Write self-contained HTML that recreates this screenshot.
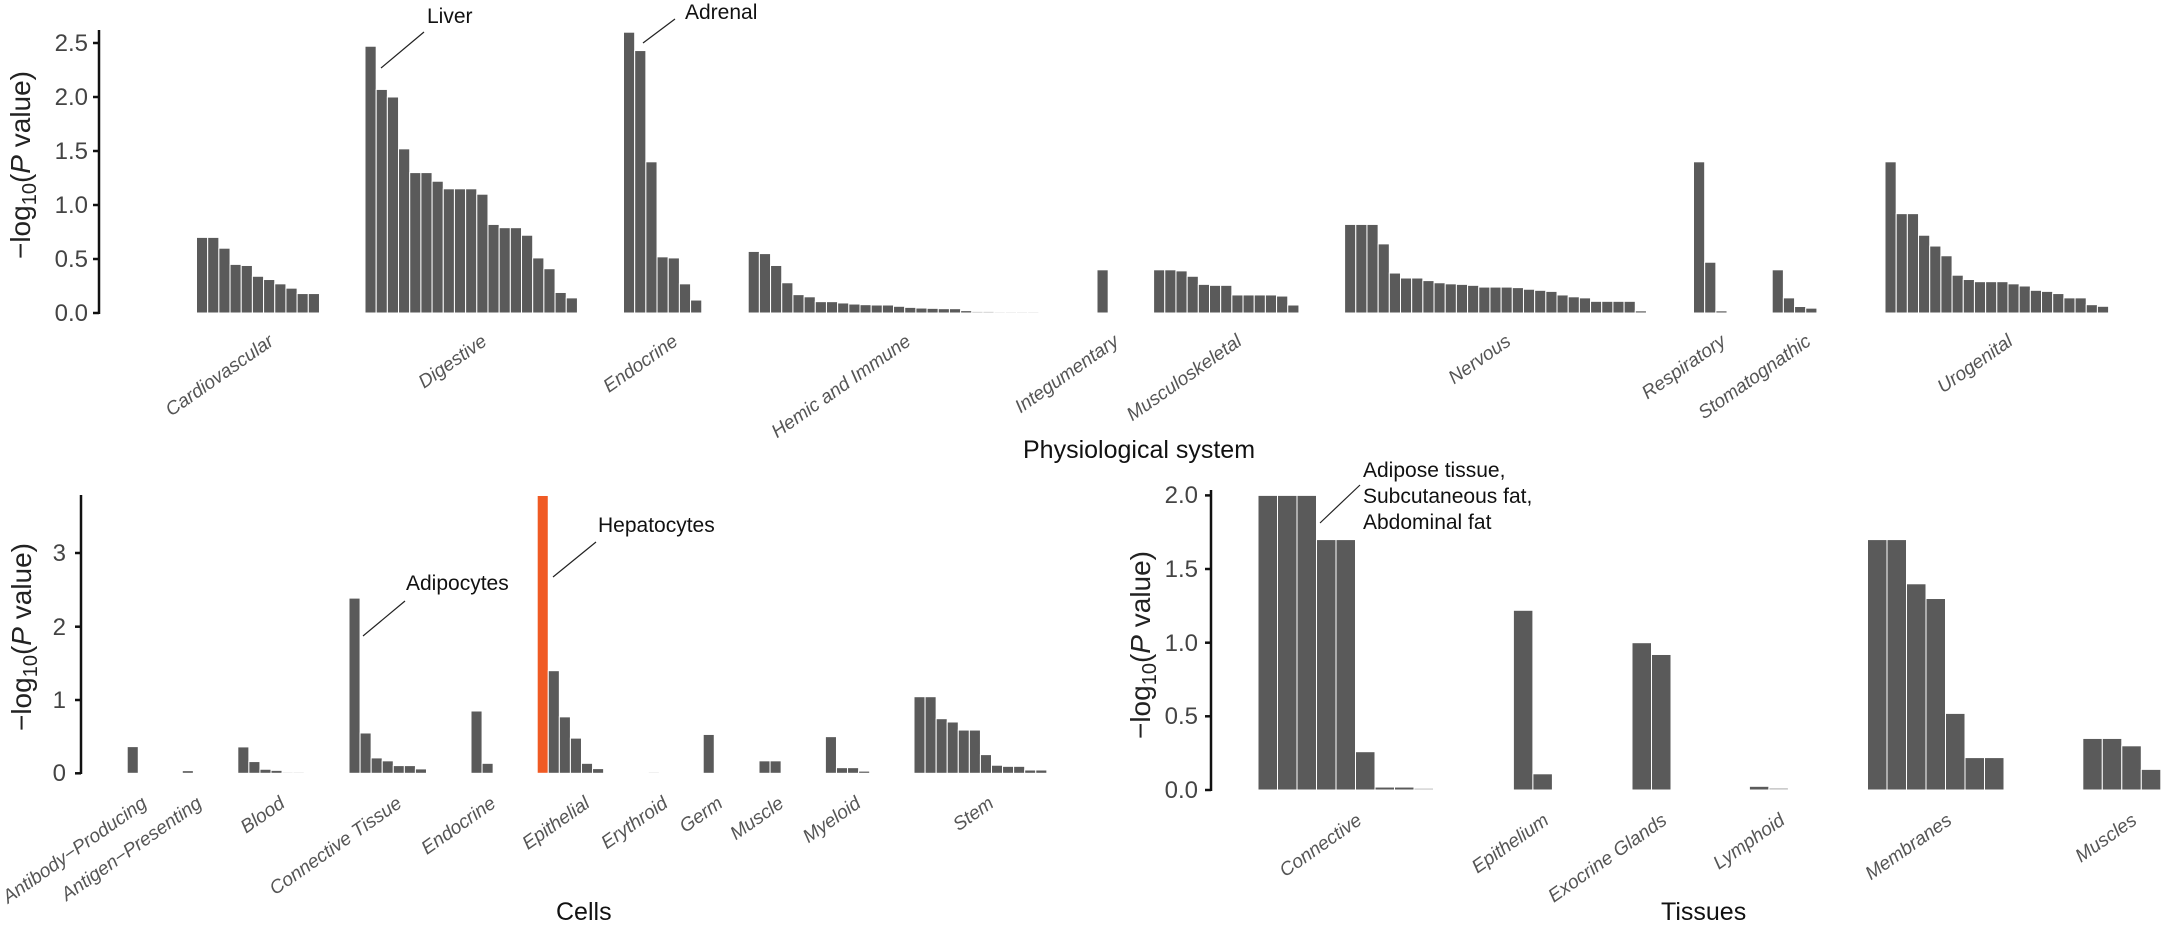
<!DOCTYPE html>
<html><head><meta charset="utf-8"><style>
html,body{margin:0;padding:0;background:#fff;}
svg{display:block;font-family:"Liberation Sans",sans-serif;}
.tk{font-size:24px;fill:#444;}
.cat{font-size:19px;fill:#555;font-style:italic;}
.ttl{font-size:25px;fill:#111;}
.ann{font-size:21px;fill:#111;}
.yt{font-size:28px;fill:#222;}
</style></head><body>
<svg id="s" width="2162" height="928" viewBox="0 0 2162 928" xmlns="http://www.w3.org/2000/svg">
<g id="bars"></g>
<g stroke="#111" stroke-width="2.5">
<line x1="99" y1="30" x2="99" y2="314"/>
<line x1="93" y1="43" x2="99" y2="43"/><line x1="93" y1="97" x2="99" y2="97"/><line x1="93" y1="151" x2="99" y2="151"/><line x1="93" y1="205" x2="99" y2="205"/><line x1="93" y1="259" x2="99" y2="259"/><line x1="93" y1="313" x2="99" y2="313"/>
<line x1="81" y1="495" x2="81" y2="774"/>
<line x1="75" y1="553" x2="81" y2="553"/><line x1="75" y1="626.7" x2="81" y2="626.7"/><line x1="75" y1="700" x2="81" y2="700"/><line x1="75" y1="773.3" x2="81" y2="773.3"/>
<line x1="1211" y1="490" x2="1211" y2="791"/>
<line x1="1205" y1="495.4" x2="1211" y2="495.4"/><line x1="1205" y1="569" x2="1211" y2="569"/><line x1="1205" y1="642.7" x2="1211" y2="642.7"/><line x1="1205" y1="716.3" x2="1211" y2="716.3"/><line x1="1205" y1="790" x2="1211" y2="790"/>
</g>
<g class="tk" text-anchor="end">
<text x="88" y="51">2.5</text><text x="88" y="105">2.0</text><text x="88" y="159">1.5</text><text x="88" y="213">1.0</text><text x="88" y="267">0.5</text><text x="88" y="321">0.0</text>
<text x="66" y="561">3</text><text x="66" y="635">2</text><text x="66" y="708">1</text><text x="66" y="781">0</text>
<text x="1198" y="503">2.0</text><text x="1198" y="577">1.5</text><text x="1198" y="651">1.0</text><text x="1198" y="724">0.5</text><text x="1198" y="798">0.0</text>
</g>
<text class="yt" transform="translate(30,165) rotate(-90)" text-anchor="middle">−log<tspan font-size="20" dy="6">10</tspan><tspan dy="-6">(</tspan><tspan font-style="italic">P</tspan> value)</text>
<text class="yt" transform="translate(31,637) rotate(-90)" text-anchor="middle">−log<tspan font-size="20" dy="6">10</tspan><tspan dy="-6">(</tspan><tspan font-style="italic">P</tspan> value)</text>
<text class="yt" transform="translate(1150,645) rotate(-90)" text-anchor="middle">−log<tspan font-size="20" dy="6">10</tspan><tspan dy="-6">(</tspan><tspan font-style="italic">P</tspan> value)</text>
<text class="ttl" x="1023" y="458">Physiological system</text>
<text class="ttl" x="556" y="920">Cells</text>
<text class="ttl" x="1661" y="920">Tissues</text>
<g stroke="#222" stroke-width="1.2">
<line x1="381" y1="68" x2="424" y2="32"/>
<line x1="643" y1="43" x2="675" y2="19"/>
<line x1="363" y1="636" x2="405" y2="601"/>
<line x1="553" y1="577" x2="596" y2="542"/>
<line x1="1320" y1="523" x2="1360" y2="485"/>
</g>
<text class="ann" x="427" y="23">Liver</text>
<text class="ann" x="685" y="19">Adrenal</text>
<text class="ann" x="406" y="590">Adipocytes</text>
<text class="ann" x="598" y="532">Hepatocytes</text>
<text class="ann" x="1363" y="477">Adipose tissue,</text>
<text class="ann" x="1363" y="503">Subcutaneous fat,</text>
<text class="ann" x="1363" y="529">Abdominal fat</text>
<g id="labels" class="cat" text-anchor="end">
<text transform="translate(275,344) rotate(-35)">Cardiovascular</text>
<text transform="translate(488,344) rotate(-35)">Digestive</text>
<text transform="translate(679,344) rotate(-35)">Endocrine</text>
<text transform="translate(912,344) rotate(-35)">Hemic and Immune</text>
<text transform="translate(1120,344) rotate(-35)">Integumentary</text>
<text transform="translate(1243,344) rotate(-35)">Musculoskeletal</text>
<text transform="translate(1512,344) rotate(-35)">Nervous</text>
<text transform="translate(1727,344) rotate(-35)">Respiratory</text>
<text transform="translate(1812,344) rotate(-35)">Stomatognathic</text>
<text transform="translate(2014,344) rotate(-35)">Urogenital</text>
<text transform="translate(148,806) rotate(-35)">Antibody−Producing</text>
<text transform="translate(203,806) rotate(-35)">Antigen−Presenting</text>
<text transform="translate(286,806) rotate(-35)">Blood</text>
<text transform="translate(403,806) rotate(-35)">Connective Tissue</text>
<text transform="translate(497,806) rotate(-35)">Endocrine</text>
<text transform="translate(591,806) rotate(-35)">Epithelial</text>
<text transform="translate(669,806) rotate(-35)">Erythroid</text>
<text transform="translate(724,806) rotate(-35)">Germ</text>
<text transform="translate(785,806) rotate(-35)">Muscle</text>
<text transform="translate(862,806) rotate(-35)">Myeloid</text>
<text transform="translate(995,806) rotate(-35)">Stem</text>
<text transform="translate(1363,823) rotate(-35)">Connective</text>
<text transform="translate(1550,823) rotate(-35)">Epithelium</text>
<text transform="translate(1668,823) rotate(-35)">Exocrine Glands</text>
<text transform="translate(1786,823) rotate(-35)">Lymphoid</text>
<text transform="translate(1953,823) rotate(-35)">Membranes</text>
<text transform="translate(2138,823) rotate(-35)">Muscles</text>
</g>
</svg>
<script>
(function(){
var g=document.getElementById('bars');var NS='http://www.w3.org/2000/svg';
function grp(x0,w,vals,base,scale,hl){
 for(var i=0;i<vals.length;i++){var v=vals[i];var h=v*scale;if(h<1.2)h=1.2;
  var r=document.createElementNS(NS,'rect');
  r.setAttribute('x',x0+i*w);r.setAttribute('y',base-h);r.setAttribute('width',w);r.setAttribute('height',h);
  var c='#5a5a5a';if(v<0.02)c='#b8b8b8';if(hl&&i===0)c='#f05a24';
  r.setAttribute('fill',c);r.setAttribute('stroke','#fff');r.setAttribute('stroke-width','1');
  g.appendChild(r);}
}
var W=11.18,B=313,S=108;
grp(196.5,W,[.70,.70,.60,.45,.44,.34,.31,.27,.23,.18,.18],B,S);
grp(365,W,[2.47,2.07,2.00,1.52,1.30,1.30,1.22,1.15,1.15,1.15,1.10,.82,.79,.79,.72,.51,.41,.19,.14],B,S);
grp(623.5,W,[2.60,2.43,1.40,.52,.51,.27,.12],B,S);
grp(748.2,W,[.57,.55,.44,.28,.17,.15,.105,.105,.093,.083,.077,.074,.074,.062,.052,.046,.043,.04,.04,.022,.015,.015,.006,.004,.004,.004],B,S);
grp(1097,W,[.40],B,S);
grp(1153.6,W,[.40,.40,.39,.34,.265,.256,.256,.167,.167,.167,.167,.157,.074],B,S);
grp(1344.6,W,[.82,.82,.82,.64,.37,.324,.324,.30,.28,.27,.265,.256,.24,.24,.24,.235,.22,.21,.20,.167,.15,.14,.108,.108,.108,.108,.02],B,S);
grp(1693.5,W,[1.40,.47,.02],B,S);
grp(1772.2,W,[.40,.14,.06,.045],B,S);
grp(1885,W,[1.40,.92,.92,.72,.62,.53,.35,.31,.29,.29,.29,.27,.25,.21,.20,.18,.14,.14,.077,.062],B,S);
var W2=11.07,B2=773.3,S2=73.3;
grp(127.2,W2,[.364],B2,S2);
grp(182.3,W2,[.036],B2,S2);
grp(237.8,W2,[.36,.16,.055,.04,.012,.012],B2,S2);
grp(349,W2,[2.39,.55,.21,.17,.105,.105,.06],B2,S2);
grp(471,W2,[.85,.136],B2,S2);
grp(537.2,W2,[3.79,1.40,.77,.48,.136,.064],B2,S2,true);
grp(648.3,W2,[.008],B2,S2);
grp(703.2,W2,[.53],B2,S2);
grp(759,W2,[.17,.17],B2,S2);
grp(825.4,W2,[.50,.077,.077,.03],B2,S2);
grp(914,W2,[1.045,1.045,.745,.70,.59,.59,.255,.11,.095,.095,.045,.045],B2,S2);
var W3=19.5,B3=790,S3=147.3;
grp(1258,W3,[2,2,2,1.70,1.70,.26,.02,.02,.013],B3,S3);
grp(1513.4,W3,[1.22,.11],B3,S3);
grp(1632,W3,[1.0,.92],B3,S3);
grp(1749.4,W3,[.025,.015],B3,S3);
grp(1867.5,W3,[1.70,1.70,1.40,1.30,.52,.22,.22],B3,S3);
grp(2082.8,W3,[.35,.35,.30,.14],B3,S3);
})();
</script>
</body></html>
